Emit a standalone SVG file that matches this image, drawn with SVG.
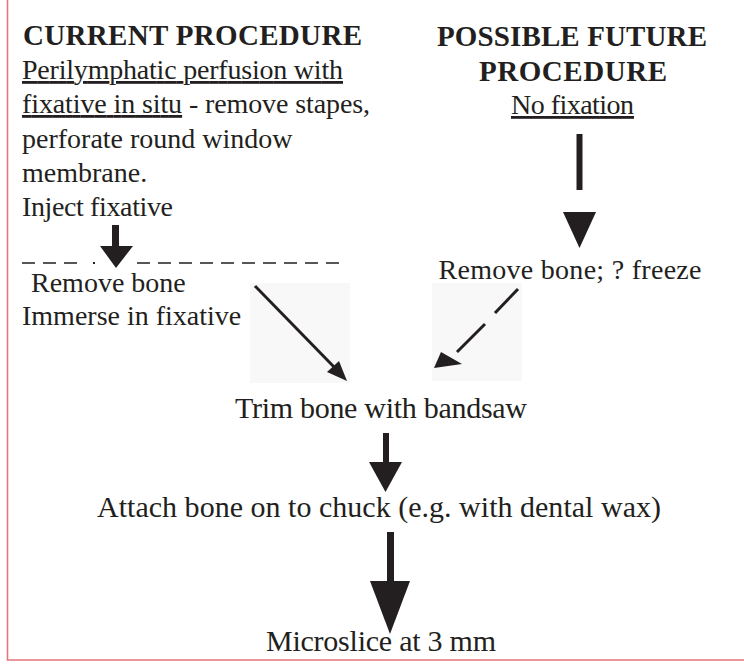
<svg xmlns="http://www.w3.org/2000/svg" width="744" height="666" viewBox="0 0 744 666">
<style>
text{font-family:"Liberation Serif","Times New Roman",serif;fill:#231f20;}
.h{font-weight:bold;font-size:29px;}
.t{font-size:28px;}
.b{font-size:30px;}
.u{text-decoration:underline;}
.ink{fill:#231f20;}
.line{stroke:#231f20;fill:none;}
.frame{stroke:#e8737c;stroke-width:1.6;fill:none;}
.bg{fill:#f8f8f8;}
</style>
<rect width="744" height="666" fill="#ffffff"/>
<path class="frame" d="M7.5,0 V660 H744"/>
<rect class="bg" x="250" y="283" width="100" height="100"/>
<rect class="bg" x="432" y="283" width="90" height="98"/>

<g id="current-procedure">
<text class="h" x="23" y="45" textLength="339">CURRENT PROCEDURE</text>
<text class="t u" x="22" y="79" textLength="321">Perilymphatic perfusion with</text>
<text class="t" x="22" y="113" textLength="348"><tspan class="u">fixative in situ</tspan> - remove stapes,</text>
<text class="t" x="22" y="148">perforate round window</text>
<text class="t" x="22" y="182">membrane.</text>
<text class="t" x="22" y="216" textLength="151">Inject fixative</text>
</g>

<g id="separator">
<path class="line" stroke-width="1.4" d="M22,263H35M43,263H56M64,263H77"/>
<rect class="ink" x="93" y="262" width="2" height="2"/>
<line class="line" stroke-width="1.4" x1="137" y1="263" x2="339" y2="263" stroke-dasharray="13 8"/>
</g>

<g id="remove-immerse">
<text class="t" x="31" y="292">Remove bone</text>
<text class="t" x="22" y="325">Immerse in fixative</text>
</g>

<g id="future-procedure">
<text class="h" x="572" y="46" text-anchor="middle" textLength="270">POSSIBLE FUTURE</text>
<text class="h" x="573" y="81" text-anchor="middle" textLength="188">PROCEDURE</text>
<text class="t u" x="572.5" y="114" text-anchor="middle" textLength="123">No fixation</text>
</g>

<g id="remove-freeze">
<text class="t" x="570" y="279" text-anchor="middle" textLength="263">Remove bone; ? freeze</text>
</g>

<g id="trim">
<text class="b" x="381" y="418" text-anchor="middle" textLength="292">Trim bone with bandsaw</text>
</g>

<g id="attach">
<text class="b" x="379" y="517" text-anchor="middle" textLength="564">Attach bone on to chuck (e.g. with dental wax)</text>
</g>

<g id="microslice">
<text class="b" x="381" y="651" text-anchor="middle" textLength="230">Microslice at 3 mm</text>
</g>

<g id="connectors">
<g id="inject-to-remove">
<rect class="ink" x="112" y="225" width="7" height="24"/>
<polygon class="ink" points="100,246 133,246 116,268"/>
</g>
<g id="nofix-to-freeze">
<rect class="ink" x="576.5" y="134" width="6" height="56"/>
<polygon class="ink" points="563,212 596,212 579.5,248"/>
</g>
<g id="immerse-to-trim">
<line class="line" stroke-width="3" x1="255" y1="286" x2="336" y2="369"/>
<polygon class="ink" points="347,381 327,372 339,361"/>
</g>
<g id="freeze-to-trim">
<path class="line" stroke-width="3" d="M518,289 L495,313 M485,324 L457,352"/>
<polygon class="ink" points="434,368 441,352 462,364"/>
</g>
<g id="trim-to-attach">
<rect class="ink" x="383" y="433" width="6" height="31"/>
<polygon class="ink" points="369,462 402,462 385.5,492"/>
</g>
<g id="attach-to-microslice">
<rect class="ink" x="387" y="532" width="7" height="52"/>
<polygon class="ink" points="370,581 410,581 390,634"/>
</g>
</g>
</svg>
